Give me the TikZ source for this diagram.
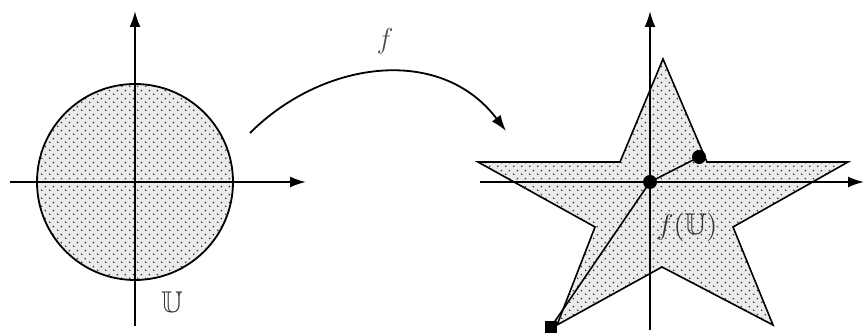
\documentclass[tikz,border=0pt]{standalone}
\usepackage{amsmath,amssymb}
\usetikzlibrary{arrows.meta,patterns}

% staggered dot fill for the two regions
\pgfdeclarepatternformonly{regiondots}{\pgfpointorigin}{\pgfqpoint{4pt}{4pt}}{\pgfqpoint{4pt}{4pt}}{%
  \pgfpathcircle{\pgfqpoint{1pt}{1pt}}{0.5pt}%
  \pgfpathcircle{\pgfqpoint{3pt}{3pt}}{0.5pt}%
  \pgfusepath{fill}}

\begin{document}
\begin{tikzpicture}[x=0.5pt, y=0.5pt, font=\fontsize{15}{18}\selectfont,
  >={Latex[length=8pt,width=5.5pt]},
  axis/.style={->, line width=1pt},
  region/.style={draw=black, line width=0.9pt, preaction={fill=black!8},
                 pattern=regiondots, pattern color=black!80},
  pt/.style={circle, fill=black, inner sep=0pt, minimum size=7pt},
  lab/.style={text=black!80, inner sep=1pt}]
\useasboundingbox (0,0) rectangle (867,336);
% left: the disc U
\coordinate (O1) at (135,154);
\coordinate (x1a) at (10,154);   \coordinate (x1b) at (306,154);
\coordinate (y1a) at (135,10);   \coordinate (y1b) at (135,325);
\draw[region] (O1) circle[radius=98];
\draw[axis] (x1a) -- (x1b);
\draw[axis] (y1a) -- (y1b);
\node[lab] (ulab) at (172,34) {$\mathbb{U}$};
% the map f
\coordinate (mapS) at (250,203);
\coordinate (mapE) at (506,205);
\draw[->, line width=0.9pt] (mapS) .. controls (322,275) and (440,292) .. (mapE);
\node[lab, text=black!70] (flab) at (385,295) {$f$};
% right: the star f(U)
\coordinate (O2) at (650,154);
\coordinate (x2a) at (480,154);  \coordinate (x2b) at (864,154);
\coordinate (y2a) at (650,6);    \coordinate (y2b) at (650,325);
\draw[region, line width=0.8pt] (663,277) -- (620,174) -- (478,174) -- (595,109)
  -- (557,11) -- (662,69) -- (773,11) -- (733,109) -- (848,174) -- (707,174) -- cycle;
\draw[axis] (x2a) -- (x2b);
\draw[axis] (y2a) -- (y2b);
\coordinate (pA) at (699,179);
\coordinate (pB) at (551,9);
\draw[line width=0.8pt] (pB) -- (O2) -- (pA);
\node[pt] (c0) at (O2) {};
\node[pt] (c1) at (pA) {};
\node[pt, rectangle, minimum size=6pt] (c2) at (pB) {};
\node[lab] (fulab) at (687,109) {$f(\mathbb{U})$};
\end{tikzpicture}
\end{document}
